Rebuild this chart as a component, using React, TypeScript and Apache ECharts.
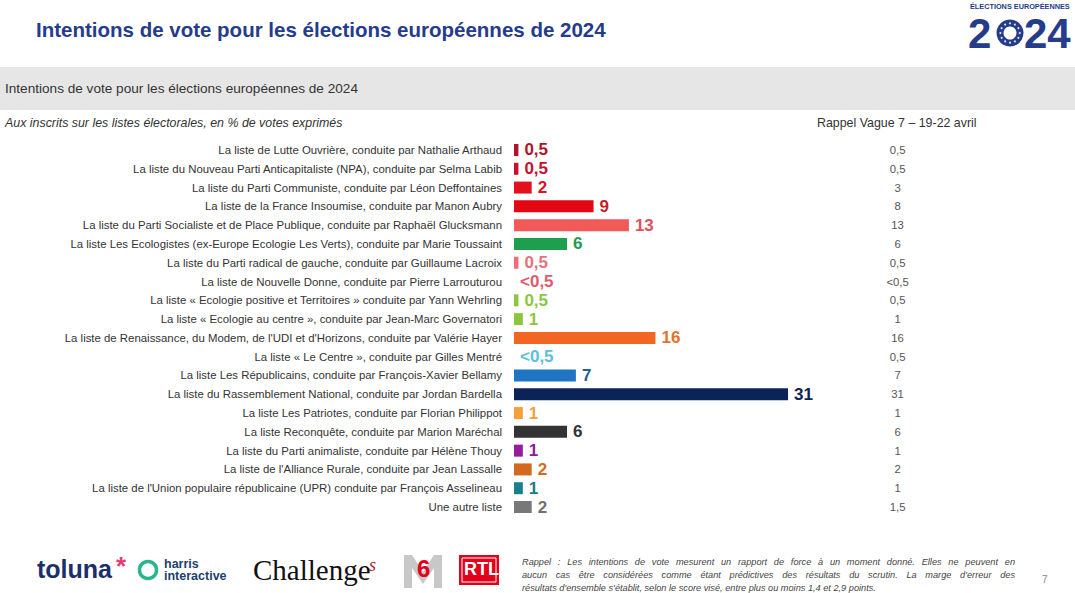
import React, { useEffect, useRef } from "react";
import * as echarts from "echarts";

const categories = [
  "La liste de Lutte Ouvrière, conduite par Nathalie Arthaud",
  "La liste du Nouveau Parti Anticapitaliste (NPA), conduite par Selma Labib",
  "La liste du Parti Communiste, conduite par Léon Deffontaines",
  "La liste de la France Insoumise, conduite par Manon Aubry",
  "La liste du Parti Socialiste et de Place Publique, conduite par Raphaël Glucksmann",
  "La liste Les Ecologistes (ex-Europe Ecologie Les Verts), conduite par Marie Toussaint",
  "La liste du Parti radical de gauche, conduite par Guillaume Lacroix",
  "La liste de Nouvelle Donne, conduite par Pierre Larrouturou",
  "La liste « Ecologie positive et Territoires » conduite par Yann Wehrling",
  "La liste « Ecologie au centre », conduite par Jean-Marc Governatori",
  "La liste de Renaissance, du Modem, de l'UDI et d'Horizons, conduite par Valérie Hayer",
  "La liste « Le Centre », conduite par Gilles Mentré",
  "La liste Les Républicains, conduite par François-Xavier Bellamy",
  "La liste du Rassemblement National, conduite par Jordan Bardella",
  "La liste Les Patriotes, conduite par Florian Philippot",
  "La liste Reconquête, conduite par Marion Maréchal",
  "La liste du Parti animaliste, conduite par Hélène Thouy",
  "La liste de l'Alliance Rurale, conduite par Jean Lassalle",
  "La liste de l'Union populaire républicaine (UPR) conduite par François Asselineau",
  "Une autre liste",
];

const values = [0.5, 0.5, 2, 9, 13, 6, 0.5, 0, 0.5, 1, 16, 0, 7, 31, 1, 6, 1, 2, 1, 2];
const valueLabels = ["0,5", "0,5", "2", "9", "13", "6", "0,5", "<0,5", "0,5", "1", "16", "<0,5", "7", "31", "1", "6", "1", "2", "1", "2"];
const rappel = ["0,5", "0,5", "3", "8", "13", "6", "0,5", "<0,5", "0,5", "1", "16", "0,5", "7", "31", "1", "6", "1", "2", "1", "1,5"];

const barColors = [
  "#b3122b", "#c8102e", "#e3101e", "#e30613", "#f25a5a", "#1f9e4c", "#ee6b78", "#e05a6e",
  "#8cc63f", "#8cc63f", "#f26522", "#5bc0de", "#1f74c4", "#0b2357", "#f7a03b", "#333333",
  "#951c9c", "#d2691e", "#1a7f8a", "#787878",
];
const labelColors = [
  "#b3122b", "#c8102e", "#d7141f", "#c81e2c", "#e0505a", "#1f9a4b", "#e8707a", "#e05a6e",
  "#8cc63f", "#8cc63f", "#e8702a", "#5bc0de", "#1f5fa0", "#0b2357", "#f5a040", "#333333",
  "#8e1a9a", "#d06a20", "#1a7a85", "#707070",
];

const noteLines = [
  "Rappel : Les intentions de vote mesurent un rapport de force à un moment donné. Elles ne peuvent en",
  "aucun cas être considérées comme étant prédictives des résultats du scrutin. La marge d'erreur des",
  "résultats d'ensemble s'établit, selon le score visé, entre plus ou moins 1,4 et 2,9 points.",
];

const FONT = "'Liberation Sans', Arial, sans-serif";

function justifiedLine(text: string, x: number, y: number, width: number, font: string, justify: boolean, fill: string) {
  const canvas = document.createElement("canvas");
  const ctx = canvas.getContext("2d")!;
  ctx.font = font;
  const words = text.split(" ");
  const widths = words.map((w) => ctx.measureText(w).width);
  const total = widths.reduce((a, b) => a + b, 0);
  const space = ctx.measureText(" ").width;
  const gap = justify && words.length > 1 ? (width - total) / (words.length - 1) : space;
  const out: any[] = [];
  let cx = x;
  words.forEach((w, i) => {
    out.push({ type: "text", x: cx, y, style: { text: w, fill, font, textVerticalAlign: "middle" } });
    cx += widths[i] + gap;
  });
  return out;
}

export default function App() {
  const ref = useRef<HTMLDivElement>(null);
  useEffect(() => {
    if (!ref.current) return;
    const chart = echarts.init(ref.current, undefined, { renderer: "svg" });
    const navy = "#253b8c";
    const stars: any[] = [];
    for (let i = 0; i < 12; i++) {
      const a = (i / 12) * Math.PI * 2;
      stars.push({
        type: "circle",
        shape: { cx: 1010 + Math.cos(a) * 9.7, cy: 33 + Math.sin(a) * 9.7, r: 1 },
        style: { fill: "#dfe5f2" },
        z: 12,
      });
    }
    const noteFont = `italic 9.2px ${FONT}`;
    const note: any[] = [];
    noteLines.forEach((l, i) => {
      note.push(...justifiedLine(l, 522, 562 + i * 13, 493, noteFont, i < 2, "#444444"));
    });
    chart.setOption({
      animation: false,
      backgroundColor: "#ffffff",
      textStyle: { fontFamily: FONT },
      grid: { left: 514, width: 353.6, top: 140.6, height: 375.8 },
      xAxis: { type: "value", min: 0, max: 40, show: false },
      yAxis: [
        {
          type: "category",
          data: categories,
          inverse: true,
          axisLine: { show: false },
          axisTick: { show: false },
          splitLine: { show: false },
          axisLabel: { margin: 12, fontSize: 11.4, color: "#333333", fontFamily: FONT },
        },
        {
          type: "category",
          data: categories,
          inverse: true,
          position: "right",
          axisLine: { show: false },
          axisTick: { show: false },
          splitLine: { show: false },
          axisLabel: {
            margin: 30,
            align: "center",
            fontSize: 11.3,
            color: "#555555",
            fontFamily: FONT,
            formatter: (_v: string, i: number) => rappel[i],
          },
        },
      ],
      series: [
        {
          type: "bar",
          yAxisIndex: 0,
          barWidth: 12,
          data: values.map((v, i) => ({
            value: v,
            itemStyle: { color: barColors[i] },
            label: { color: labelColors[i] },
          })),
          label: {
            show: true,
            position: "right",
            distance: 6,
            fontSize: 17,
            fontWeight: "bold",
            fontFamily: FONT,
            formatter: (p: any) => valueLabels[p.dataIndex],
          },
        },
      ],
      graphic: [
        {
          type: "text",
          left: 36,
          top: 19,
          style: { text: "Intentions de vote pour les élections européennes de 2024", fill: navy, font: `bold 20.5px ${FONT}` },
        },
        {
          type: "text",
          left: 970,
          top: 3,
          style: { text: "ÉLECTIONS EUROPÉENNES", fill: navy, font: `bold 7.3px ${FONT}` },
        },
        { type: "text", left: 968, top: 12, style: { text: "2", fill: navy, font: `bold 42px ${FONT}` } },
        { type: "text", left: 1024, top: 12, style: { text: "24", fill: navy, font: `bold 42px ${FONT}` } },
        { type: "ring", shape: { cx: 1010, cy: 33, r: 13.5, r0: 6.5 }, style: { fill: navy }, z: 11 },
        ...stars,
        { type: "rect", shape: { x: 0, y: 67, width: 1075, height: 43 }, style: { fill: "#e6e6e6" }, z: -1 },
        {
          type: "text",
          left: 5,
          top: 81,
          style: { text: "Intentions de vote pour les élections européennes de 2024", fill: "#333333", font: `13.6px ${FONT}` },
        },
        {
          type: "text",
          left: 5,
          top: 117,
          style: { text: "Aux inscrits sur les listes électorales, en % de votes exprimés", fill: "#333333", font: `italic 12.4px ${FONT}` },
        },
        {
          type: "text",
          left: 817,
          top: 117,
          style: { text: "Rappel Vague 7 – 19-22 avril", fill: "#333333", font: `12.4px ${FONT}` },
        },
        // footer logos
        { type: "text", left: 37, top: 556, style: { text: "toluna", fill: "#1b2f6b", font: `bold 25px ${FONT}` } },
        { type: "text", left: 116, top: 553, style: { text: "*", fill: "#e63d7a", font: `bold 26px ${FONT}` } },
        { type: "circle", shape: { cx: 148, cy: 570, r: 8.5 }, style: { fill: "none", stroke: "#2bb58f", lineWidth: 3.5 } },
        { type: "text", left: 164, top: 557, style: { text: "harris", fill: "#1c3f6e", font: `bold 12.5px ${FONT}` } },
        { type: "text", left: 164, top: 569, style: { text: "interactive", fill: "#1c3f6e", font: `bold 12.5px ${FONT}` } },
        { type: "text", left: 253, top: 555, style: { text: "Challenge", fill: "#111111", font: `29px 'Liberation Serif', 'DejaVu Serif', serif` } },
        { type: "text", left: 369, top: 556, style: { text: "s", fill: "#b0202a", font: `italic 18px 'Liberation Serif', serif` } },
        {
          type: "polygon",
          shape: { points: [[404, 588], [404, 555], [412, 555], [423, 572], [434, 555], [442, 555], [442, 588], [434, 588], [434, 568], [423, 584], [412, 568], [412, 588]] },
          style: { fill: "#c8c8c8" },
        },
        { type: "text", left: 417, top: 556, style: { text: "6", fill: "#e2001a", font: `bold 24px ${FONT}` }, z: 5 },
        { type: "rect", shape: { x: 459, y: 555, width: 40, height: 30 }, style: { fill: "#e2001a" } },
        { type: "rect", shape: { x: 462, y: 558, width: 34, height: 24 }, style: { fill: "none", stroke: "#ffffff", lineWidth: 1 } },
        { type: "text", left: 464, top: 560, style: { text: "RTL", fill: "#ffffff", font: `bold 18px 'Liberation Sans Narrow', ${FONT}` } },
        ...note,
        { type: "text", left: 1042, top: 574, style: { text: "7", fill: "#888888", font: `10px ${FONT}` } },
      ],
    });
    return () => chart.dispose();
  }, []);
  return <div ref={ref} style={{ position: "fixed", left: 0, top: 0, width: 1075, height: 593 }} />;
}
